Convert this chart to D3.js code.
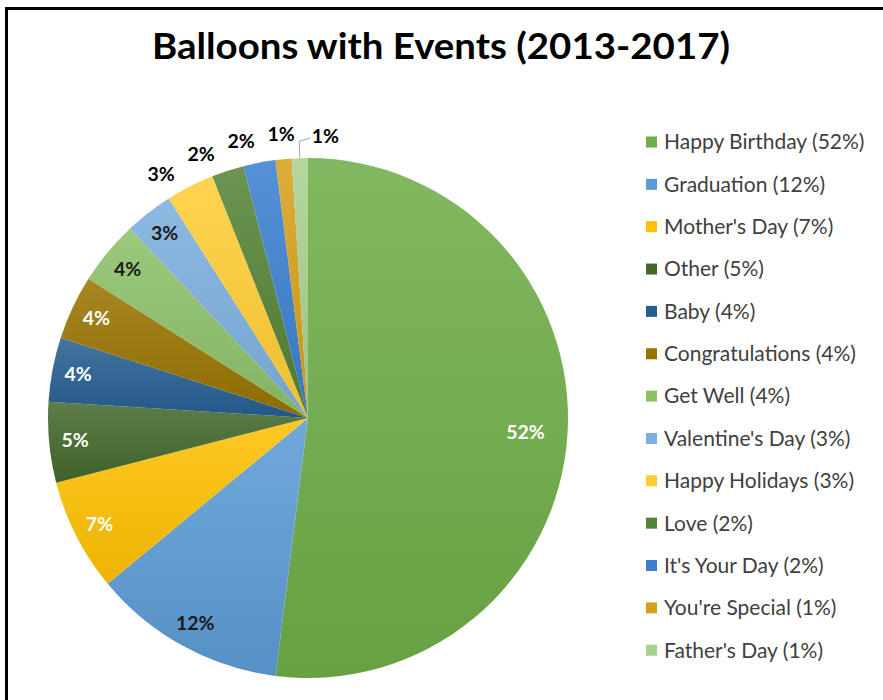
<!DOCTYPE html>
<html>
<head>
<meta charset="utf-8">
<script src="https://cdn.jsdelivr.net/npm/d3@7/dist/d3.min.js"></script>
<style>
  html, body { margin: 0; padding: 0; background: #fff; }
  svg { display: block; }
</style>
</head>
<body>
<svg id="chart" width="883" height="700"></svg>
<script>
// Balloon sales share by event, 2013-2017
const categories = [
  "Happy Birthday", "Graduation", "Mother's Day", "Other", "Baby",
  "Congratulations", "Get Well", "Valentine's Day", "Happy Holidays",
  "Love", "It's Your Day", "You're Special", "Father's Day"
];
const shares = [52, 12, 7, 5, 4, 4, 4, 3, 3, 2, 2, 1, 1];

// Fill palette, one per category
const palette = [
  "#6EAD47", "#5B9BD5", "#FFC000", "#43682B", "#255E91",
  "#997300", "#8CC168", "#7CAFDD", "#FFCD33", "#548235",
  "#3A7FCF", "#D6A01A", "#A9D18E"
];

// Labels that sit outside the pie rim
const outsideLabels = new Set(["Happy Holidays", "Love", "It's Your Day", "You're Special", "Father's Day"]);
const leaderLabels = new Set(["Father's Day"]);

const data = categories.map((c, i) => ({ name: c, value: shares[i], color: palette[i] }));

const svg = d3.select("#chart");
const W = 883, H = 700;

// frame
svg.append("rect")
  .attr("x", 6.5).attr("y", 8.5)
  .attr("width", W + 20).attr("height", H + 20)
  .attr("fill", "#fff").attr("stroke", "#000").attr("stroke-width", 3);

// title
svg.append("text")
  .attr("x", 441).attr("y", 59)
  .attr("text-anchor", "middle")
  .attr("font-family", "Lato, 'Open Sans', sans-serif")
  .attr("font-weight", "bold")
  .attr("font-size", 36)
  .attr("textLength", 578)
  .attr("lengthAdjust", "spacingAndGlyphs")
  .attr("fill", "#000")
  .text("Balloons with Events (2013-2017)");

// gradients: each slice a touch lighter at the top
const defs = svg.append("defs");
data.forEach((d, i) => {
  const g = defs.append("linearGradient")
    .attr("id", "grad" + i)
    .attr("x1", 0).attr("y1", 0).attr("x2", 0).attr("y2", 1);
  g.append("stop").attr("offset", "0%").attr("stop-color", d3.interpolateRgb(d.color, "#fff")(0.14));
  g.append("stop").attr("offset", "100%").attr("stop-color", d3.interpolateRgb(d.color, "#000")(0.07));
});

const cx = 308, cy = 418, R = 260;
const pie = d3.pie().sort(null).value(d => d.value);
const arcs = pie(data);
const arc = d3.arc().innerRadius(0).outerRadius(R);

const g = svg.append("g").attr("transform", `translate(${cx},${cy})`);

g.selectAll("path.slice")
  .data(arcs)
  .join("path")
  .attr("class", "slice")
  .attr("d", arc)
  .attr("fill", (d, i) => `url(#grad${i})`);

// data labels
const inner = d3.arc().innerRadius(234).outerRadius(234);
const innerBig = d3.arc().innerRadius(218).outerRadius(218);
const outerR = 285;
const outer = d3.arc().innerRadius(outerR).outerRadius(outerR);
const labelFont = "Lato, 'Open Sans', sans-serif";
const minGap = 40;

const labels = arcs.map(a => {
  const d = a.data;
  const mid = (a.startAngle + a.endAngle) / 2;
  if (outsideLabels.has(d.name)) {
    if (leaderLabels.has(d.name)) {
      const p0 = [R * Math.sin(mid), -R * Math.cos(mid)];
      const p1 = [(R + 17) * Math.sin(mid), -(R + 17) * Math.cos(mid)];
      const p2 = [p1[0] + 11, p1[1] - 3];
      return { d, x: p2[0] + 15, y: p2[1] - 2, fill: "#000", leader: [p0, p1, p2] };
    }
    const [x, y] = outer.centroid(a);
    return { d, x, y, fill: "#000", slide: true };
  }
  const [x, y] = (d.value >= 50 ? innerBig : inner).centroid(a);
  return { d, x, y, fill: d3.hsl(d.color).l > 0.55 ? "#1a1a1a" : "#fff" };
});

// keep neighbouring outside labels apart by sliding them along the rim
const sliding = labels.filter(l => l.slide);
for (let i = sliding.length - 2; i >= 0; i--) {
  const next = sliding[i + 1];
  if (sliding[i].x > next.x - minGap) {
    sliding[i].x = next.x - minGap;
    sliding[i].y = -Math.sqrt(outerR * outerR - sliding[i].x * sliding[i].x);
  }
}

labels.forEach(l => {
  if (l.leader) {
    g.append("polyline")
      .attr("points", l.leader.map(p => p.join(",")).join(" "))
      .attr("fill", "none").attr("stroke", "#a6a6a6").attr("stroke-width", 1);
  }
  g.append("text")
    .attr("x", l.x).attr("y", l.y)
    .attr("dy", "0.35em")
    .attr("text-anchor", "middle")
    .attr("font-family", labelFont)
    .attr("font-weight", "bold")
    .attr("font-size", 19.5)
    .attr("fill", l.fill)
    .text(l.d.value + "%");
});

// legend
const legend = svg.append("g").attr("transform", "translate(646,142)");
const rowH = 42.35;
const rows = legend.selectAll("g.item")
  .data(data)
  .join("g")
  .attr("class", "item")
  .attr("transform", (d, i) => `translate(0,${i * rowH})`);
rows.append("rect")
  .attr("x", 0).attr("y", -5.5)
  .attr("width", 11).attr("height", 11)
  .attr("fill", d => d.color);
rows.append("text")
  .attr("x", 18).attr("y", 0)
  .attr("dy", "0.35em")
  .attr("font-family", labelFont)
  .attr("font-size", 21)
  .attr("fill", "#404040")
  .text(d => `${d.name} (${d.value}%)`);
</script>
</body>
</html>
